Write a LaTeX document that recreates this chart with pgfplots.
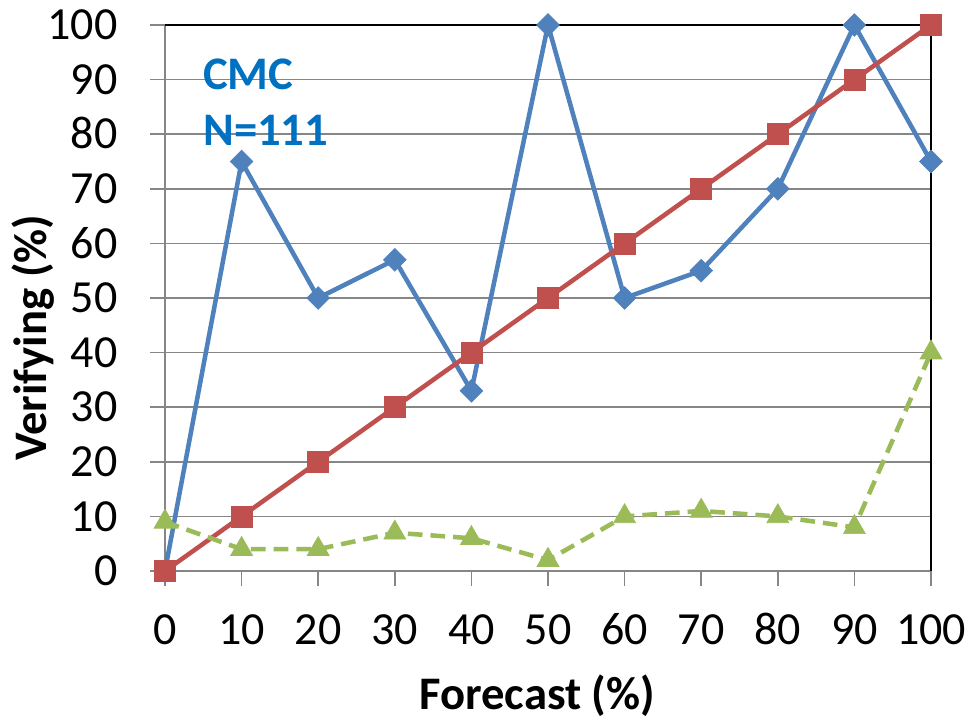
\documentclass[border=0pt]{standalone}
\usepackage{fontspec}
\setmainfont{Carlito}
\usepackage{pgfplots}
\pgfplotsset{compat=1.18}
\definecolor{cblue}{HTML}{4F81BD}
\definecolor{cred}{HTML}{C0504D}
\definecolor{cgreen}{HTML}{9BBB59}
\definecolor{ctext}{HTML}{0070C0}
\definecolor{cgrid}{HTML}{868686}
\begin{document}
\begin{tikzpicture}
\path[use as bounding box] (-123.75pt,-111pt) rectangle (604.5pt,428.25pt);
\begin{axis}[
  at={(0,0)}, anchor=south west,
  scale only axis,
  width=574.5pt, height=409.5pt,
  xmin=0, xmax=100, ymin=0, ymax=100,
  xtick={0,10,...,100}, ytick={0,10,...,100},
  ymajorgrids, grid style={cgrid, line width=1.1pt},
  axis line style={draw=none},
  tick style={cgrid, line width=1.1pt},
  tick align=outside, major tick length=11.25pt,
  xtick pos=bottom, ytick pos=left,
  /pgf/number format/assume math mode=true,
  tick label style={font=\fontsize{34.5}{40}\selectfont, inner sep=0pt,
    text height=22pt, text depth=0pt},
  xticklabel shift=21.5pt,
  yticklabel shift=24.25pt,
  xlabel={Forecast (\%)},
  ylabel={Verifying (\%)},
  label style={font=\bfseries\fontsize{35}{40}\selectfont, inner sep=0pt},
  xlabel style={at={(axis description cs:0.486,0)}, anchor=base, yshift=-103.5pt},
  ylabel style={at={(axis description cs:0,0.427)}, anchor=base, yshift=88.5pt},
  clip=false,
]
% frame of the plotting area
\draw[cgrid, line width=1.1pt] (axis cs:0,100) -- (axis cs:0,0) -- (axis cs:100,0);
\draw[black, line width=1.1pt] (axis cs:0,100) -- (axis cs:100,100) -- (axis cs:100,0);
% observed relative frequency
\addplot[cblue, line width=3.4pt, mark=square*, mark size=6pt,
  mark options={rotate=45, line width=0.5pt}] coordinates {
  (0,0) (10,75) (20,50) (30,57) (40,33) (50,100)
  (60,50) (70,55) (80,70) (90,100) (100,75)};
% perfect reliability
\addplot[cred, line width=3.4pt, mark=square*, mark size=7.9pt,
  mark options={line width=0.5pt}] coordinates {
  (0,0) (10,10) (20,20) (30,30) (40,40) (50,50)
  (60,60) (70,70) (80,80) (90,90) (100,100)};
% forecast frequency
\addplot[cgreen, line width=3.4pt, dash pattern=on 11pt off 6pt,
  mark=triangle*, mark size=9.5pt, mark options={solid, line width=0.5pt}] coordinates {
  (0,9) (10,4) (20,4) (30,7) (40,6) (50,2)
  (60,10) (70,11) (80,10) (90,8) (100,40)};
\node[anchor=base west, inner sep=0pt, text=ctext, font=\fontsize{35}{40}\bfseries\selectfont]
  at (axis cs:4.96,88.1) {CMC};
\node[anchor=base west, inner sep=0pt, text=ctext, font=\fontsize{35}{40}\bfseries\selectfont]
  at (axis cs:4.96,78.0) {N=111};
\end{axis}
\end{tikzpicture}
\end{document}
